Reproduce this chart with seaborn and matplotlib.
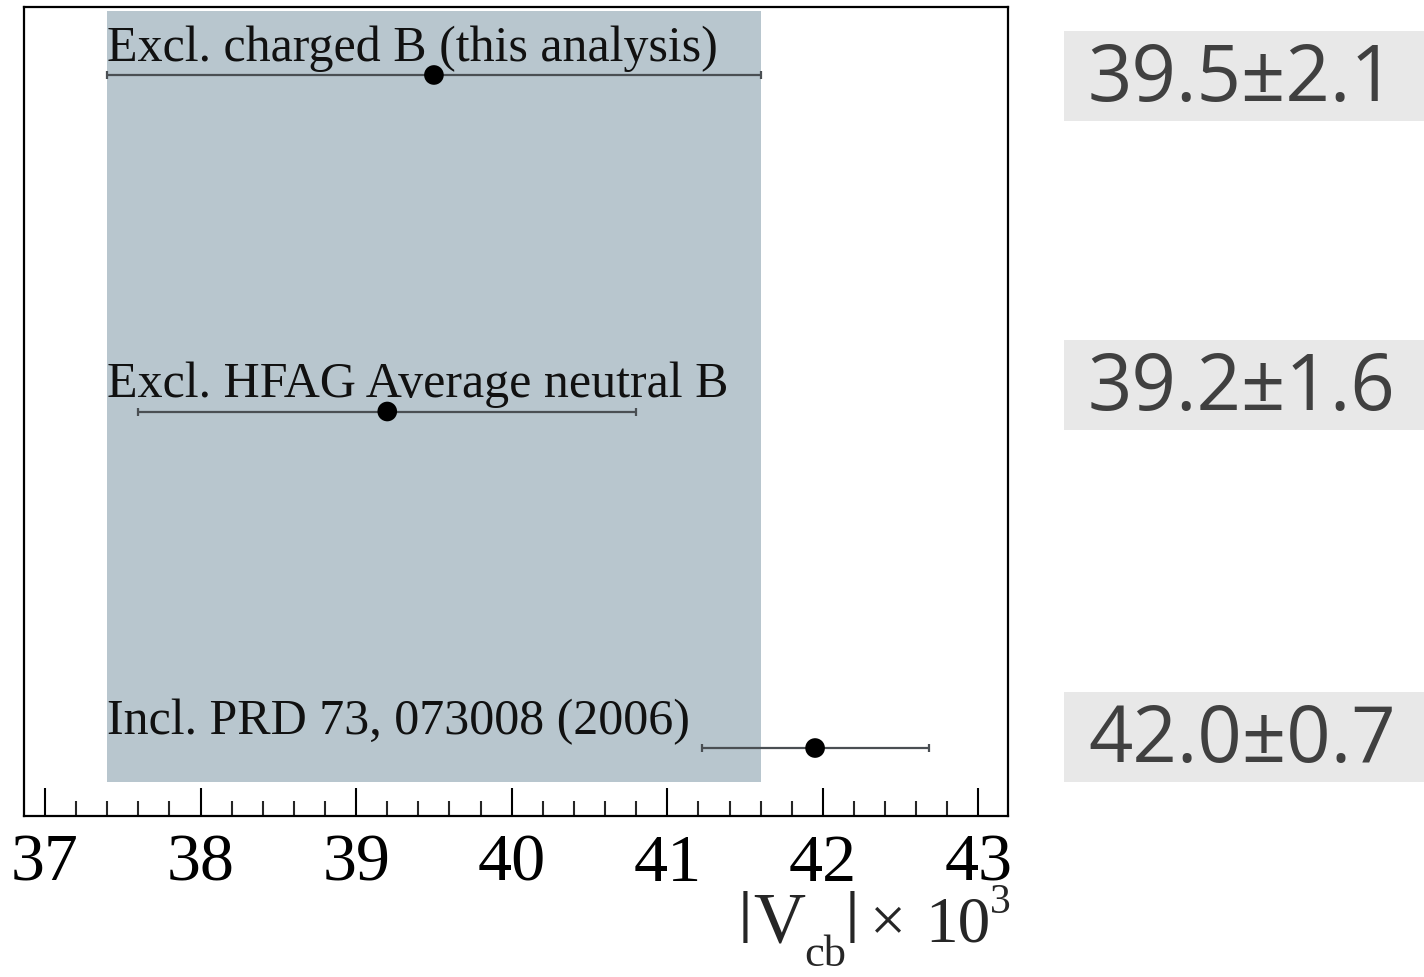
import matplotlib
matplotlib.use('Agg')
import matplotlib.pyplot as plt
import seaborn as sns
import pandas as pd
from matplotlib.patches import Rectangle
from matplotlib.ticker import MultipleLocator
from matplotlib.transforms import IdentityTransform

# Measurements of |Vcb| x 10^3
labels = ['Excl. charged B (this analysis)',
          'Excl. HFAG Average neutral B',
          'Incl. PRD 73, 073008 (2006)']
values = [39.5, 39.2, 41.95]
errors = [2.1, 1.6, 0.73]
summary = ['39.5\u00b12.1', '39.2\u00b11.6', '42.0\u00b10.7']
rows = [0, 1, 2]

df = pd.DataFrame({'label': labels, 'value': values, 'error': errors, 'row': rows})

sns.set_style('white')
plt.rcParams['font.family'] = ['Liberation Serif', 'DejaVu Serif']

W, H = 1424, 978
fig = plt.figure(figsize=(W / 100, H / 100), dpi=100)
ax = fig.add_axes([24 / W, 1 - 817 / H, 984 / W, 809 / H])

# band for this analysis
band_lo = values[0] - errors[0]
band_hi = values[0] + errors[0]
ax.axvspan(band_lo, band_hi, ymin=0.042, ymax=0.995, color='#b8c6ce', lw=0, zorder=0)

ax.errorbar(df['value'], df['row'], xerr=df['error'], fmt='none',
            ecolor='#4a4f53', elinewidth=1.6, capsize=3, capthick=1.6, zorder=2)
sns.scatterplot(data=df, x='value', y='row', s=200, color='black',
                edgecolor='none', zorder=3, ax=ax)

for lab, r in zip(df['label'], df['row']):
    ax.annotate(lab, (band_lo, r), xytext=(0, 11), textcoords='offset points',
                va='baseline', ha='left', fontsize=36, color='#111111')

ax.set_xlim(36.865, 43.19)
ax.set_ylim(2.202, -0.202)
ax.set_yticks([])
ax.set_ylabel('')
ax.set_xlabel('')
ax.xaxis.set_major_locator(MultipleLocator(1))
ax.xaxis.set_minor_locator(MultipleLocator(0.2))
ax.tick_params(axis='x', which='major', direction='in', length=20, width=1.5,
               labelsize=49, pad=12, bottom=True, colors='black')
ax.tick_params(axis='x', which='minor', direction='in', length=11, width=1.5, bottom=True)
for s in ax.spines.values():
    s.set_linewidth(1.6)
    s.set_color('black')

# axis title, ROOT style: |V_cb| x 10^3 built from pieces (pixel coords from top-left)
pix = IdentityTransform()


def put(s, x, y_base, size, weight='normal'):
    fig.text(x, H - y_base, s, fontsize=size, transform=pix, va='baseline',
             ha='left', fontweight=weight)


put('|', 739, 931, 42, 'bold')
put('V', 753, 942, 52)
put('cb', 804, 966, 32)
put('|', 846, 931, 42, 'bold')
put('\u00d7', 870, 940, 46)
put('10', 925, 942, 47)
put('3', 990, 913, 30)

# summary boxes on the right
box_tops = [32, 341, 693]
for txt, top in zip(summary, box_tops):
    fig.patches.append(Rectangle((1064 / W, 1 - (top + 90) / H), 360 / W, 90 / H,
                                 transform=fig.transFigure, facecolor='#e8e8e8',
                                 edgecolor='none', zorder=0))
    fig.text(1088 / W, 1 - (top + 69) / H, txt, family='Open Sans',
             fontsize=56, color='#404040', va='baseline', ha='left')

fig.savefig('out.png', dpi=100)
